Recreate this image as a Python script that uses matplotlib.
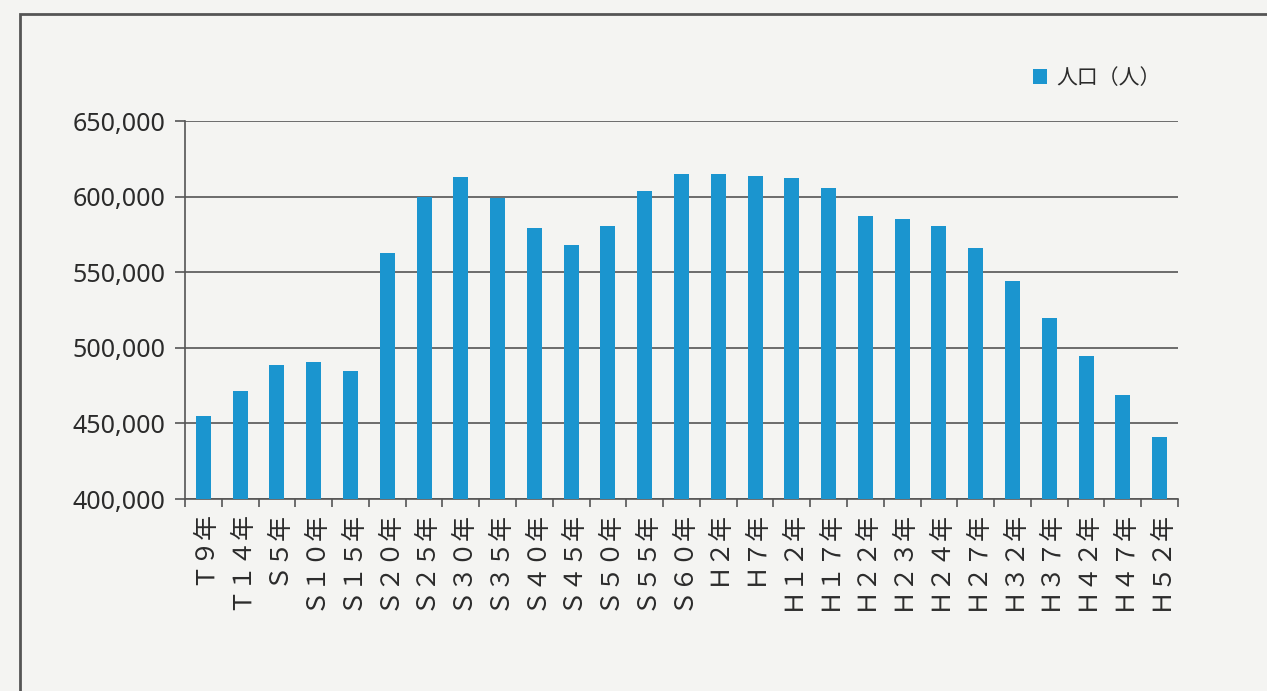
import numpy as np
import matplotlib.pyplot as plt
from matplotlib.patches import Rectangle

plt.rcParams['font.family'] = ['Noto Sans CJK JP', 'DejaVu Sans']

# 年次ラベル（縦書き風に回転して表示）
years = ['Ｔ９年', 'Ｔ１４年', 'Ｓ５年', 'Ｓ１０年', 'Ｓ１５年', 'Ｓ２０年', 'Ｓ２５年',
         'Ｓ３０年', 'Ｓ３５年', 'Ｓ４０年', 'Ｓ４５年', 'Ｓ５０年', 'Ｓ５５年', 'Ｓ６０年',
         'Ｈ２年', 'Ｈ７年', 'Ｈ１２年', 'Ｈ１７年', 'Ｈ２２年', 'Ｈ２３年', 'Ｈ２４年',
         'Ｈ２７年', 'Ｈ３２年', 'Ｈ３７年', 'Ｈ４２年', 'Ｈ４７年', 'Ｈ５２年']
population = [454900, 471400, 488600, 490600, 484700, 562700, 599700,
              613000, 599000, 579000, 568000, 580600, 603700, 615000,
              615000, 613600, 612300, 605700, 587200, 585200, 580600,
              566000, 544200, 519700, 494600, 468800, 441000]
series_name = '人口（人）'
yticks = [400000, 450000, 500000, 550000, 600000, 650000]

bar_color = '#1b95cf'
line_color = '#555555'
text_color = '#2b2b2b'
paper = '#f4f4f2'

fig = plt.figure(figsize=(12.67, 6.91), dpi=100, facecolor=paper)
ax = fig.add_axes([185 / 1267, 1 - 499 / 691, (1178 - 185) / 1267, (499 - 121) / 691])
ax.set_facecolor(paper)

# 外枠
fig.patches.append(Rectangle((20 / 1267, -0.1), 1.2, 1.1 - 14 / 691,
                             transform=fig.transFigure, fill=False,
                             edgecolor=line_color, linewidth=2.0))

x = np.arange(len(years))
bars = ax.bar(x, population, width=0.41, color=bar_color, zorder=3, label=series_name)

ax.set_xlim(-0.5, len(years) - 0.5)
ax.set_ylim(400000, 650000)
ax.set_yticks(yticks)
ax.set_yticklabels(['{:,}'.format(v) for v in yticks], family='Noto Sans',
                   fontsize=18, color=text_color)
ax.yaxis.grid(True, color=line_color, linewidth=1.2, zorder=0)
ax.tick_params(axis='y', length=7, width=1.2, color=line_color, pad=7)

ax.set_xticks(x)
ax.set_xticklabels(years, rotation=90, va='top', ha='center',
                   fontsize=18, color=text_color)
ax.set_xticks(np.arange(len(years) + 1) - 0.5, minor=True)
ax.tick_params(axis='x', which='major', length=0, pad=8)
ax.tick_params(axis='x', which='minor', length=6, width=1.2, color=line_color)

for side in ['top', 'right']:
    ax.spines[side].set_visible(False)
for side in ['left', 'bottom']:
    ax.spines[side].set_color(line_color)
    ax.spines[side].set_linewidth(1.2)

fig.legend(handles=[bars], labels=[series_name], loc='center left',
           bbox_to_anchor=(1014 / 1267, 1 - 78 / 691), frameon=False,
           fontsize=15, handlelength=0.7, handleheight=0.7,
           handletextpad=0.45, labelcolor=text_color)

fig.savefig('out.png', dpi=100, facecolor=paper)
